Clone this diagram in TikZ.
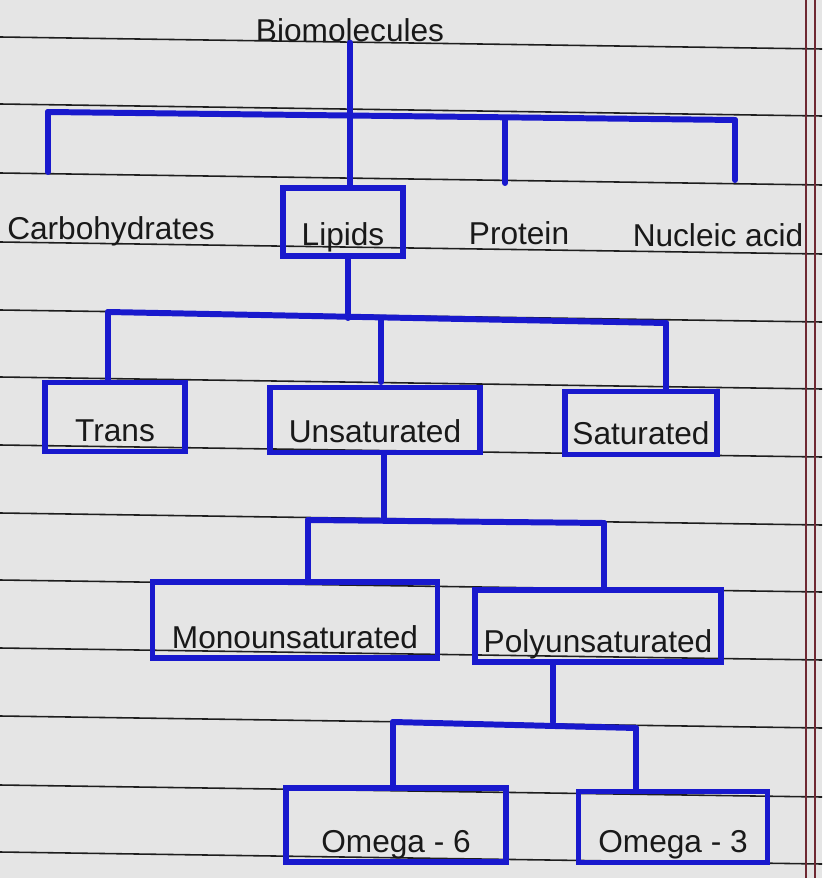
\documentclass[tikz,border=0pt]{standalone}
\usepackage{fontspec}
\setmainfont{Liberation Sans}
\usepackage{xcolor}
\usetikzlibrary{calc}
\definecolor{ink}{RGB}{25,25,205}
\definecolor{paper}{RGB}{229,229,229}
\definecolor{lineink}{RGB}{30,30,30}
\definecolor{marginink}{RGB}{110,40,50}

\begin{document}
\begin{tikzpicture}[
  x=0.02cm, y=-0.02cm,
  every node/.style={font=\fontsize{18}{21}\selectfont, text=black!90},
  box/.style={draw=ink, line width=3.2pt, inner xsep=0pt, inner ysep=0pt, text depth=0.2cm},
  word/.style={inner sep=0pt, anchor=base},
  link/.style={draw=ink, line width=3.4pt, line cap=round},
  ruled/.style={draw=lineink, line width=0.9pt},
  margin/.style={draw=marginink, line width=0.6pt}
]
\fill[paper] (0,0) rectangle (822,878);
\useasboundingbox (0,0) rectangle (822,878);
\foreach \y in {37,104,173,242,310,377,445,513,580,648,716,785,852}
  \draw[ruled] (0,\y) -- (822,{\y+12});
\draw[margin] (806,0) -- (806,878);
\draw[margin] (815,0) -- (815,878);

\node[word] (bio) at (350,42) {Biomolecules};
\node[word] (carb) at (111,240) {Carbohydrates};
\node[word] (prot) at (519,245) {Protein};
\node[word] (nucl) at (718,247) {Nucleic acid};

\node[box, minimum width=2.4cm, text height=1.16cm] (lipids) at (343,222) {Lipids};
\node[box, minimum width=2.8cm, text height=1.18cm] (trans) at (115,417) {Trans};
\node[box, minimum width=4.2cm, text height=1.10cm] (unsat) at (375,420) {Unsaturated};
\node[box, minimum width=3.04cm, text height=1.06cm] (sat) at (641,423) {Saturated};
\node[box, minimum width=5.7cm, text height=1.32cm] (mono) at (295,620) {Monounsaturated};
\node[box, minimum width=4.92cm, text height=1.24cm] (poly) at (598,626) {Polyunsaturated};
\node[box, minimum width=4.4cm, text height=1.28cm] (om6) at (396,825) {Omega - 6};
\node[box, minimum width=3.78cm, text height=1.22cm] (om3) at (673,827) {Omega - 3};

\coordinate (b1l) at (48,112);
\coordinate (b1r) at (735,120);
\coordinate (b1m) at (505,118);
\coordinate (carbend) at (48,172);
\coordinate (protend) at (505,183);
\coordinate (nuclend) at (735,180);
\draw[link] (b1l) -- (b1r);
\draw[link] (bio.south) -- (bio.south |- lipids.north);
\draw[link] (b1l) -- (carbend);
\draw[link] (b1m) -- (protend);
\draw[link] (b1r) -- (nuclend);

\coordinate (b2l) at (108,312);
\coordinate (b2r) at (666,323);
\coordinate (b2m) at (381,318);
\coordinate (unsatend) at (381,382);
\draw[link] (b2l) -- (b2r);
\draw[link] ([xshift=0.1cm]lipids.south) -- ([xshift=0.1cm]lipids.south |- b2m);
\draw[link] (b2l) -- (b2l |- trans.north);
\draw[link] (b2m) -- (unsatend);
\draw[link] (b2r) -- (b2r |- sat.north);

\coordinate (b3l) at (308,520);
\coordinate (b3r) at (604,523);
\draw[link] (b3l) -- (b3r);
\draw[link] ([xshift=0.18cm]unsat.south) -- ([xshift=0.18cm]unsat.south |- b3l);
\draw[link] (b3l) -- (b3l |- mono.north);
\draw[link] (b3r) -- (b3r |- poly.north);

\coordinate (b4l) at (393,722);
\coordinate (b4r) at (636,728);
\draw[link] (b4l) -- (b4r);
\draw[link] ([xshift=-0.9cm]poly.south) -- ([xshift=-0.9cm]poly.south |- b4l);
\draw[link] (b4l) -- (b4l |- om6.north);
\draw[link] (b4r) -- (b4r |- om3.north);
\end{tikzpicture}
\end{document}
